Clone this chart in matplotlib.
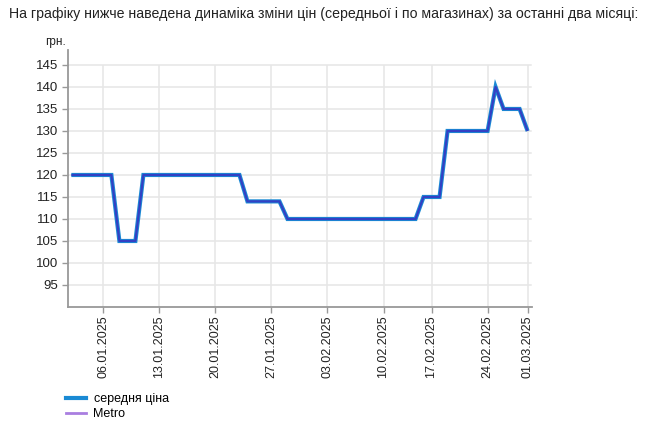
import matplotlib
matplotlib.use("Agg")
import matplotlib.pyplot as plt
from matplotlib.lines import Line2D

plt.rcParams['font.family'] = ['Liberation Sans', 'DejaVu Sans']

title = "На графіку нижче наведена динаміка зміни цін (середньої і по магазинах) за останні два місяці:"
unit = "грн."
series_names = ["середня ціна", "Metro"]

# one value per trading day (58 points, one day missing between 10.02 and 17.02)
avg_price = [120, 120, 120, 120, 120, 120, 105, 105, 105, 120,
             120, 120, 120, 120, 120, 120, 120, 120, 120, 120,
             120, 120, 114, 114, 114, 114, 114, 110, 110, 110,
             110, 110, 110, 110, 110, 110, 110, 110, 110, 110,
             110, 110, 110, 110, 115, 115, 115, 130, 130, 130,
             130, 130, 130, 140, 135, 135, 135, 130]
metro_price = list(avg_price)

tick_idx = [4, 11, 18, 25, 32, 39, 45, 52, 57]
tick_labels = ["06.01.2025", "13.01.2025", "20.01.2025", "27.01.2025", "03.02.2025",
               "10.02.2025", "17.02.2025", "24.02.2025", "01.03.2025"]
y_ticks = [95, 100, 105, 110, 115, 120, 125, 130, 135, 140, 145]

fig = plt.figure(figsize=(6.64, 4.34), dpi=100)
ax = fig.add_axes([68/664, 1-307/434, (531.6-68)/664, (307-50)/434])

x = list(range(len(avg_price)))
ax.plot(x, avg_price, color='#1a8ad4', lw=3.0, solid_joinstyle='miter',
        solid_capstyle='butt', zorder=3)
ax.plot(x, metro_price, color='#3340c4', lw=1.6, solid_capstyle='butt', zorder=4)

ax.set_xlim(-0.42, 57.5)
ax.set_ylim(90, 148.4)

for yv in y_ticks:
    ax.plot([-0.42, 57.4], [yv, yv], color='#e6e6e6', lw=1.1, zorder=1)
ax.vlines(tick_idx, 90, 145, color='#e6e6e6', lw=1.1, zorder=1)

ax.set_yticks(y_ticks)
ax.set_yticklabels([str(v) for v in y_ticks])
ax.set_xticks(tick_idx)
ax.set_xticklabels(tick_labels, rotation=90)
ax.tick_params(axis='y', length=4, width=1, color='#999999', pad=3, labelsize=9.5, labelcolor='#222222')
ax.tick_params(axis='x', length=4, width=1, color='#999999', pad=2, labelsize=9, labelcolor='#222222')

for s in ['top', 'right']:
    ax.spines[s].set_visible(False)
for s in ['left', 'bottom']:
    ax.spines[s].set_color('#999999')
    ax.spines[s].set_linewidth(1.3)

fig.text(9/664, 1-14/434, title, fontsize=10.2, color='#222222', va='center', ha='left')
fig.text(45/664, 1-42/434, unit, fontsize=8.5, color='#222222', va='center', ha='left')

handles = [Line2D([], [], color='#1a8ad4', lw=3), Line2D([], [], color='#a97ee0', lw=2)]
fig.legend(handles, series_names, loc='upper left', bbox_to_anchor=(66/664, 1-393/434),
           frameon=False, fontsize=9, handlelength=1.6, handletextpad=0.6,
           labelspacing=0.25, borderpad=0, borderaxespad=0)

fig.savefig("out.png", dpi=100)
